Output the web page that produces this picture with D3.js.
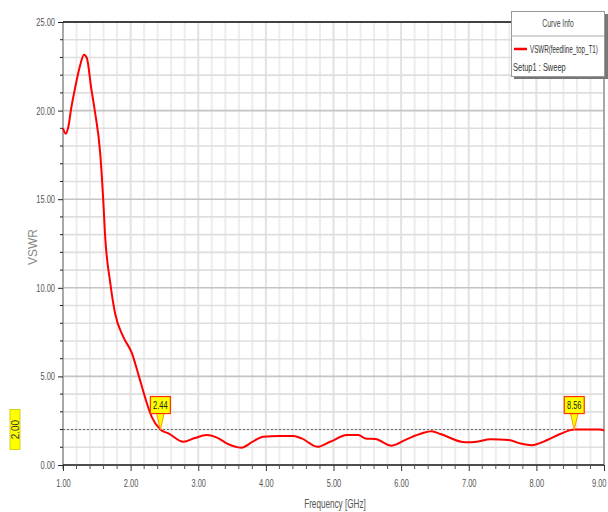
<!DOCTYPE html>
<html>
<head>
<meta charset="utf-8">
<script src="https://cdn.jsdelivr.net/npm/d3@7"></script>
<style>
  html, body { margin: 0; padding: 0; background: #fff; }
  svg { display: block; }
  text { font-family: "Liberation Sans Narrow", "Liberation Sans", "DejaVu Sans Condensed", sans-serif; }
</style>
</head>
<body>
<svg id="chart" width="608" height="512"></svg>
<script>
// Sweep frequency (GHz) and VSWR of feedline_top_T1
const freq = [1.00, 1.04, 1.08, 1.12, 1.18, 1.25, 1.31, 1.35, 1.42, 1.47, 1.55, 1.60, 1.62, 1.70, 1.77,
  1.89, 2.02, 2.11, 2.21, 2.31, 2.44, 2.56, 2.78, 2.95, 3.12, 3.30, 3.42, 3.64, 3.80, 3.96, 4.20, 4.41,
  4.53, 4.76, 4.95, 5.20, 5.37, 5.47, 5.62, 5.86, 6.08, 6.31, 6.45, 6.58, 6.95, 7.12, 7.32, 7.59, 7.76,
  7.93, 8.16, 8.35, 8.56, 8.80, 8.94, 9.00];
const vswr = [19.0, 18.7, 19.1, 20.1, 21.3, 22.5, 23.15, 23.0, 21.2, 20.0, 17.6, 14.6, 13.1, 10.25, 8.56,
  7.24, 6.30, 5.17, 3.86, 2.73, 2.00, 1.78, 1.31, 1.52, 1.69, 1.50, 1.22, 0.98, 1.30, 1.60, 1.64, 1.64,
  1.50, 1.03, 1.31, 1.69, 1.69, 1.50, 1.47, 1.09, 1.45, 1.79, 1.90, 1.75, 1.28, 1.31, 1.45, 1.41, 1.22,
  1.12, 1.41, 1.75, 2.00, 2.01, 2.01, 1.95];

// Axis ticks
const xTicks = [1, 2, 3, 4, 5, 6, 7, 8, 9];
const yTicks = [0, 5, 10, 15, 20, 25];

// Markers where the curve crosses the reference level
const refLevel = 2.00;
const markerFreq = [2.44, 8.56];
const markerLabel = ["2.44", "8.56"];

const legendTitle = "Curve Info";
const legendSeries = "VSWR(feedline_top_T1)";
const legendSetup = "Setup1 : Sweep";
const xTitle = "Frequency [GHz]";
const yTitle = "VSWR";

const svg = d3.select("#chart");
const plot = { left: 63, right: 604, top: 22, bottom: 465 };

const x = d3.scaleLinear().domain([1, 9]).range([plot.left, plot.right]);
const y = d3.scaleLinear().domain([0, 25]).range([plot.bottom, plot.top]);

// Squeeze a text selection horizontally about its anchor x
function condense(sel, f) {
  sel.each(function () {
    const ax = +(this.getAttribute("x") || 0);
    d3.select(this).attr("transform", `translate(${ax * (1 - f)},0) scale(${f},1)`);
  });
}

// Grid
const g = svg.append("g");
const xMinor = d3.range(1, 9.0001, 0.2);
g.selectAll("line.vx").data(xMinor).join("line")
  .attr("x1", d => x(d)).attr("x2", d => x(d))
  .attr("y1", plot.top).attr("y2", plot.bottom)
  .attr("stroke", d => Math.abs(d - Math.round(d)) < 1e-6 ? "#e2e2e2" : "#ededed")
  .attr("stroke-width", 2);
const yMinor = d3.range(0, 25.0001, 1);
g.selectAll("line.hy").data(yMinor).join("line")
  .attr("x1", plot.left).attr("x2", plot.right)
  .attr("y1", d => y(d)).attr("y2", d => y(d))
  .attr("stroke", d => d % 5 === 0 ? "#c4c4c4" : "#dedede")
  .attr("stroke-width", 1.6);

// Frame
svg.append("line").attr("x1", plot.left).attr("x2", plot.left)
  .attr("y1", plot.top).attr("y2", plot.bottom + 4)
  .attr("stroke", "#a8a8a8").attr("stroke-width", 2);
svg.append("line").attr("x1", plot.right).attr("x2", plot.right)
  .attr("y1", plot.top).attr("y2", plot.bottom)
  .attr("stroke", "#a8a8a8").attr("stroke-width", 2);
svg.append("line").attr("x1", plot.left).attr("x2", 512)
  .attr("y1", plot.top).attr("y2", plot.top)
  .attr("stroke", "#111").attr("stroke-width", 1.5);
svg.append("line").attr("x1", plot.left).attr("x2", plot.right)
  .attr("y1", plot.bottom).attr("y2", plot.bottom)
  .attr("stroke", "#222").attr("stroke-width", 1.5);

// Y axis
const yAxis = d3.axisLeft(y).tickValues(yTicks).tickFormat(d3.format(".2f")).tickSize(5).tickPadding(3);
const ya = svg.append("g").attr("transform", `translate(${plot.left},0)`).call(yAxis);
ya.select(".domain").remove();
ya.selectAll("text").attr("font-size", 11).attr("fill", "#555").call(condense, 0.68);
ya.selectAll("line").attr("stroke", "#222");
svg.append("g").selectAll("line").data(yMinor.filter(d => d % 5 !== 0)).join("line")
  .attr("x1", plot.left - 3).attr("x2", plot.left)
  .attr("y1", d => y(d)).attr("y2", d => y(d)).attr("stroke", "#222");

// X axis
const xAxis = d3.axisBottom(x).tickValues(xTicks).tickFormat(d3.format(".2f")).tickSize(6).tickPadding(8);
const xa = svg.append("g").attr("transform", `translate(0,${plot.bottom})`).call(xAxis);
xa.select(".domain").remove();
xa.selectAll("text").attr("font-size", 11).attr("fill", "#555");
xa.selectAll("text").filter(d => d === 9).attr("text-anchor", "end").attr("x", 2);
xa.selectAll("text").call(condense, 0.68);
xa.selectAll("line").attr("stroke", "#333");
svg.append("g").selectAll("line").data(xMinor.filter(d => Math.abs(d - Math.round(d)) > 1e-6)).join("line")
  .attr("x1", d => x(d)).attr("x2", d => x(d))
  .attr("y1", plot.bottom).attr("y2", plot.bottom + 4).attr("stroke", "#555");

// Axis titles
svg.append("text").attr("transform", `translate(37,247) rotate(-90)`)
  .attr("text-anchor", "middle").attr("font-size", 12).attr("fill", "#888")
  .attr("font-family", "DejaVu Sans").text(yTitle);
svg.append("text").attr("x", 335).attr("y", 508)
  .attr("text-anchor", "middle").attr("font-size", 12).attr("fill", "#555").text(xTitle)
  .call(condense, 0.68);

// Reference level line
svg.append("line").attr("x1", plot.left).attr("x2", plot.right)
  .attr("y1", y(refLevel)).attr("y2", y(refLevel))
  .attr("stroke", "#666").attr("stroke-width", 1).attr("stroke-dasharray", "2,2");

// Curve
const line = d3.line().x((d, i) => x(freq[i])).y(d => y(d)).curve(d3.curveMonotoneX);
svg.append("path").datum(vswr).attr("d", line)
  .attr("fill", "none").attr("stroke", "#ff0000").attr("stroke-width", 2)
  .attr("stroke-linejoin", "round");

// Reference level tag on the left
const tagY = y(refLevel);
svg.append("rect").attr("x", 10).attr("y", tagY - 20).attr("width", 10).attr("height", 40)
  .attr("fill", "#ffff00").attr("stroke", "#c8c800").attr("stroke-width", 0.8);
svg.append("text").attr("transform", `translate(18.5,${tagY}) rotate(-90)`)
  .attr("text-anchor", "middle").attr("font-size", 10).attr("fill", "#333")
  .attr("font-family", "DejaVu Sans Mono").text(refLevel.toFixed(2));

// Crossing markers
const mk = svg.append("g").selectAll("g").data(markerFreq).join("g")
  .attr("transform", d => `translate(${x(d)},${y(refLevel)})`);
mk.append("path").attr("d", "M-4,-17 L0,0 L4,-17 Z")
  .attr("fill", "#ffff00").attr("stroke", "#ff9900").attr("stroke-width", 1);
mk.append("rect").attr("x", -10).attr("y", -33).attr("width", 20).attr("height", 17)
  .attr("fill", "#ffff00").attr("stroke", "#ff3300").attr("stroke-width", 1.2);
mk.append("text").attr("x", 0).attr("y", -20.5).attr("text-anchor", "middle")
  .attr("font-size", 11).attr("fill", "#222").text((d, i) => markerLabel[i])
  .call(condense, 0.68);

// Legend
const lg = svg.append("g");
lg.append("rect").attr("x", 514).attr("y", 14).attr("width", 94).attr("height", 65).attr("fill", "#777");
lg.append("rect").attr("x", 511.5).attr("y", 11.5).attr("width", 93).attr("height", 65)
  .attr("fill", "#fff").attr("stroke", "#999").attr("stroke-width", 1);
lg.append("line").attr("x1", 512).attr("x2", 604).attr("y1", 36).attr("y2", 36)
  .attr("stroke", "#aaa").attr("stroke-width", 1);
lg.append("text").attr("x", 558).attr("y", 27).attr("text-anchor", "middle")
  .attr("font-size", 10).attr("fill", "#444").text(legendTitle).call(condense, 0.68);
lg.append("line").attr("x1", 514).attr("x2", 527).attr("y1", 49).attr("y2", 49)
  .attr("stroke", "#ff0000").attr("stroke-width", 2.5);
const ls = lg.append("text").attr("x", 530).attr("y", 53).attr("font-size", 11).attr("fill", "#333")
  .text(legendSeries);
ls.call(condense, 68 / ls.node().getComputedTextLength());
lg.append("text").attr("x", 513).attr("y", 71).attr("font-size", 11).attr("fill", "#333")
  .text(legendSetup).call(condense, 0.68);
</script>
</body>
</html>
